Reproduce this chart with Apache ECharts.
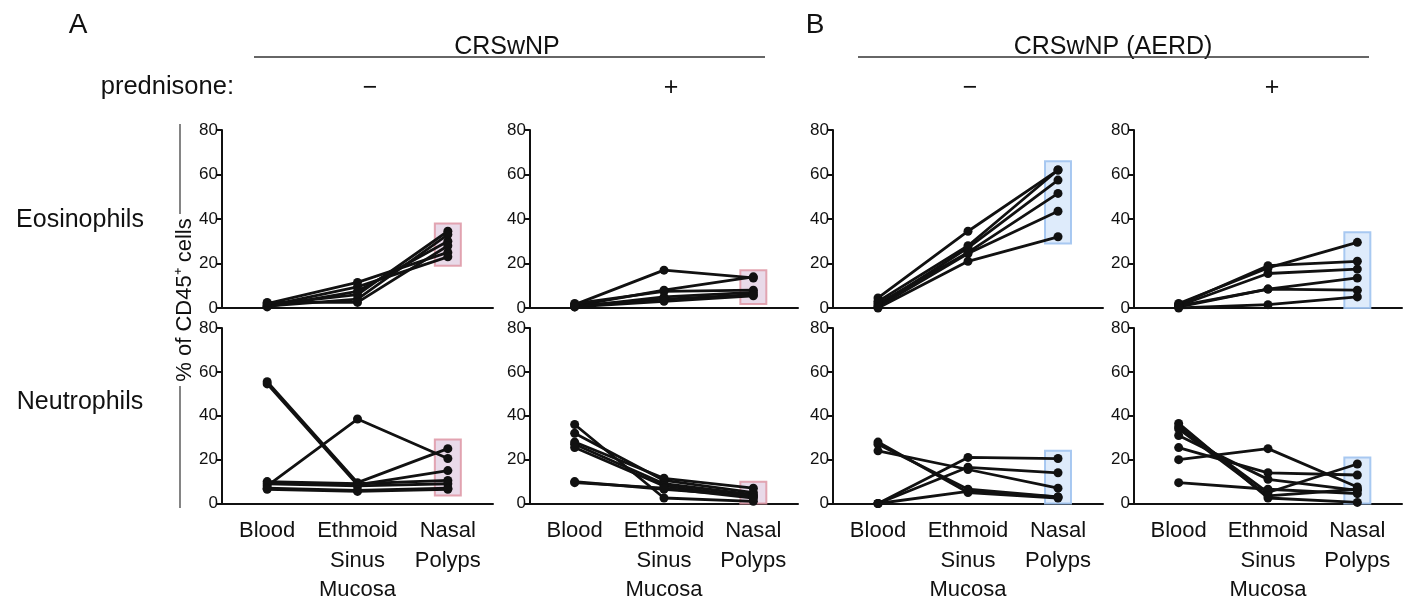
<!DOCTYPE html>
<html>
<head>
<meta charset="utf-8">
<script src="https://cdn.jsdelivr.net/npm/echarts@6/dist/echarts.min.js"></script>
<style>
html,body{margin:0;padding:0;background:#ffffff;}
#chart{width:1408px;height:605px;}
</style>
</head>
<body>
<div id="chart"></div>
<script>
// ---------- DATA ----------
const categories = ['Blood', 'Ethmoid\nSinus\nMucosa', 'Nasal\nPolyps'];
const yTicks = [0, 20, 40, 60, 80];

// each row = one subject: [Blood, Ethmoid Sinus Mucosa, Nasal Polyps]
const eosCrsMinus = [
  [2, 11.5, 25], [1, 9.5, 23], [0.5, 7.5, 30], [1.5, 6, 34.5], [0.8, 4, 33], [2.5, 2.5, 28]
];
const eosCrsPlus = [
  [1.5, 17, 13.5], [1, 8, 14], [2, 7.5, 8], [0.5, 5, 7], [1, 4, 6], [0.5, 3, 5.5]
];
const eosAerdMinus = [
  [4.5, 34.5, 62], [3, 28, 62], [1, 27, 57.5], [2, 25, 51.5], [0.5, 24.5, 43.5], [0, 21, 32]
];
const eosAerdPlus = [
  [2, 18, 29.5], [1.5, 19, 21], [1, 15.5, 17.5], [0.5, 8.5, 13.5], [1, 8.5, 8], [0, 1.5, 5]
];
const neuCrsMinus = [
  [55.5, 9.5, 25], [54.5, 8.5, 15], [8, 38.5, 20.5], [10, 9, 10.5], [9, 8, 9], [7, 6, 7], [6.5, 5.5, 6.5]
];
const neuCrsPlus = [
  [36, 2.5, 1], [32, 10.5, 5], [28, 11.5, 7], [27, 9, 4], [25.5, 8, 3], [10, 6.5, 3.5], [9.5, 7, 2.5]
];
const neuAerdMinus = [
  [0, 21, 20.5], [0, 16.5, 14], [0, 5.5, 3], [28, 5, 2.5], [27, 6.5, 3], [24, 15.5, 7]
];
const neuAerdPlus = [
  [20, 25, 7.5], [25.5, 14, 13], [31, 11, 6], [36.5, 2.5, 0.5], [35, 5, 18], [9.5, 6.5, 4.5], [34, 3.5, 6.5]
];

// highlight boxes around Nasal Polyps: [low, high]
const boxEosCrsMinus = [19, 38];
const boxEosCrsPlus = [1.8, 17];
const boxEosAerdMinus = [29, 66];
const boxEosAerdPlus = [0, 34];
const boxNeuCrsMinus = [3.6, 29.2];
const boxNeuCrsPlus = [0, 9.9];
const boxNeuAerdMinus = [0, 24];
const boxNeuAerdPlus = [0, 21];

// ---------- LAYOUT ----------
const colLeft = [222, 530, 833, 1134];
const colWidth = [271, 268, 270, 268];
const rowTop = [130, 328];
const gridH = 178;
const FONT = '"Liberation Sans", Arial, Helvetica, sans-serif';

const pinkBox = { fill: 'rgba(226,205,226,0.75)', stroke: 'rgba(222,150,165,0.85)' };
const blueBox = { fill: 'rgba(214,230,250,0.8)', stroke: 'rgba(160,195,240,0.9)' };

const panels = [
  { rows: eosCrsMinus, box: boxEosCrsMinus, c: 0, r: 0, bc: pinkBox },
  { rows: eosCrsPlus, box: boxEosCrsPlus, c: 1, r: 0, bc: pinkBox },
  { rows: eosAerdMinus, box: boxEosAerdMinus, c: 2, r: 0, bc: blueBox },
  { rows: eosAerdPlus, box: boxEosAerdPlus, c: 3, r: 0, bc: blueBox },
  { rows: neuCrsMinus, box: boxNeuCrsMinus, c: 0, r: 1, bc: pinkBox },
  { rows: neuCrsPlus, box: boxNeuCrsPlus, c: 1, r: 1, bc: pinkBox },
  { rows: neuAerdMinus, box: boxNeuAerdMinus, c: 2, r: 1, bc: blueBox },
  { rows: neuAerdPlus, box: boxNeuAerdPlus, c: 3, r: 1, bc: blueBox }
];

const grids = [], xAxes = [], yAxes = [], series = [];
panels.forEach((p, i) => {
  grids.push({ left: colLeft[p.c], top: rowTop[p.r], width: colWidth[p.c], height: gridH, containLabel: false });
  xAxes.push({
    type: 'category', gridIndex: i, data: categories, boundaryGap: true,
    axisLine: { lineStyle: { color: '#111', width: 2 } },
    axisTick: { alignWithLabel: true, length: 6, lineStyle: { color: '#111', width: 2 } },
    axisLabel: {
      show: p.r === 1, interval: 0, margin: 13, color: '#111',
      fontFamily: FONT, fontSize: 22, lineHeight: 29.5
    },
    splitLine: { show: false }
  });
  yAxes.push({
    type: 'value', gridIndex: i, min: yTicks[0], max: yTicks[yTicks.length - 1], interval: 20,
    axisLine: { show: true, lineStyle: { color: '#111', width: 2 } },
    axisTick: { show: true, length: 6, lineStyle: { color: '#111', width: 2 } },
    axisLabel: { margin: 4, color: '#111', fontFamily: FONT, fontSize: 17 },
    splitLine: { show: false }
  });
  series.push({
    type: 'custom', xAxisIndex: i, yAxisIndex: i, z: 1, clip: false,
    data: [[2, p.box[0], p.box[1]]],
    renderItem: (params, api) => {
      const top = api.coord([api.value(0), api.value(2)]);
      const bot = api.coord([api.value(0), api.value(1)]);
      return {
        type: 'rect',
        shape: { x: top[0] - 13, y: top[1], width: 26, height: bot[1] - top[1] },
        style: { fill: p.bc.fill, stroke: p.bc.stroke, lineWidth: 2 }
      };
    },
    silent: true
  });
  p.rows.forEach(row => {
    series.push({
      type: 'line', xAxisIndex: i, yAxisIndex: i, z: 3, data: row,
      symbol: 'circle', symbolSize: 9, showSymbol: true,
      lineStyle: { color: '#111', width: 2.8 },
      itemStyle: { color: '#111' },
      silent: true
    });
  });
});

const txt = (x, y, text, size, align, extra) => Object.assign({
  type: 'text', x: x, y: y,
  style: { text: text, fontFamily: FONT, fontSize: size, fill: '#111',
           textAlign: align || 'center', textVerticalAlign: 'middle' }
}, extra || {});

const graphic = [
  txt(78, 25, 'A', 28),
  txt(815, 25, 'B', 28),
  txt(507, 47, 'CRSwNP', 25),
  txt(1113, 47, 'CRSwNP (AERD)', 25),
  { type: 'line', shape: { x1: 254, y1: 57, x2: 765, y2: 57 }, style: { stroke: '#333', lineWidth: 1.5 } },
  { type: 'line', shape: { x1: 858, y1: 57, x2: 1369, y2: 57 }, style: { stroke: '#333', lineWidth: 1.5 } },
  txt(234, 87, 'prednisone:', 25.5, 'right'),
  txt(370, 88, '\u2212', 25),
  txt(671, 88, '+', 25),
  txt(970, 88, '\u2212', 25),
  txt(1272, 88, '+', 25),
  txt(80, 220, 'Eosinophils', 25),
  txt(80, 402, 'Neutrophils', 25),
  txt(185, 300, '% of CD45\u207A cells', 22, 'center', { rotation: Math.PI / 2 }),
  { type: 'line', shape: { x1: 180, y1: 124, x2: 180, y2: 214 }, style: { stroke: '#333', lineWidth: 1.2 } },
  { type: 'line', shape: { x1: 180, y1: 386, x2: 180, y2: 508 }, style: { stroke: '#333', lineWidth: 1.2 } }
];

const chart = echarts.init(document.getElementById('chart'), null, { renderer: 'canvas' });
chart.setOption({
  backgroundColor: '#ffffff',
  animation: false,
  grid: grids, xAxis: xAxes, yAxis: yAxes, series: series,
  graphic: graphic
});
</script>
</body>
</html>
